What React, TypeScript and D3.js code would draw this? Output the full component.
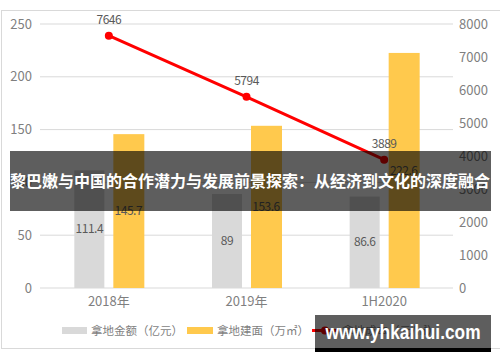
import React from 'react'
import * as d3 from 'd3'

const categories = ['2018年', '2019年', '1H2020']
const landAmount = [111.4, 89, 86.6]
const landArea = [145.7, 153.6, 222.6]
const landCost = [7646, 5794, 3889]
const leftTicks = [0, 50, 100, 150, 200, 250]
const rightTicks = [0, 1000, 2000, 3000, 4000, 5000, 6000, 7000, 8000]
const legendNames = ['拿地金额（亿元）', '拿地建面（万㎡）', '拿地成本（元/㎡）']
const title = '黎巴嫩与中国的合作潜力与发展前景探索：从经济到文化的深度融合'
const watermark = 'www.yhkaihui.com'

const W = 500
const H = 362
const font = '"Noto Sans CJK SC", "Noto Sans", sans-serif'

export default function App() {
    const [left, right, top, bottom] = [40, 453, 24, 288]

    const x = d3.scaleBand().domain(categories).range([left, right])
    const yL = d3.scaleLinear().domain([0, 250]).range([bottom, top])
    const yR = d3.scaleLinear().domain([0, 8000]).range([bottom, top])

    const barW = 30
    const gap = 9
    const greyX = (c: string) => x(c)! + x.bandwidth() / 2 - gap / 2 - barW
    const yellowX = (c: string) => x(c)! + x.bandwidth() / 2 + gap / 2
    const cx = (c: string) => x(c)! + x.bandwidth() / 2

    const line = d3
        .line<number>()
        .x((d, i) => cx(categories[i]))
        .y(d => yR(d))

    return (
        <div style={{ position: 'fixed', left: 0, top: 0 }}>
            <svg width={W} height={H} style={{ display: 'block', fontFamily: font }}>
                <rect x={0} y={0} width={W} height={H} fill='#fff' />
                <rect x={1.5} y={10.5} width={500} height={338} fill='none' stroke='#d9d9d9' />

                {/* grid */}
                {leftTicks.map(t => (
                    <line key={t} x1={left} x2={right} y1={yL(t)} y2={yL(t)} stroke='#d9d9d9' strokeWidth={1} />
                ))}
                {leftTicks.map(t => (
                    <text key={t} x={32} y={yL(t)} dy='0.35em' textAnchor='end' fontSize={13} fill='#7f7f7f'>
                        {t}
                    </text>
                ))}
                {rightTicks.map(t => (
                    <text key={t} x={459} y={yR(t)} dy='0.35em' textAnchor='start' fontSize={13} fill='#7f7f7f'>
                        {t}
                    </text>
                ))}
                {categories.map(c => (
                    <text key={c} x={cx(c)} y={bottom + 18} textAnchor='middle' fontSize={13} fill='#7f7f7f'>
                        {c}
                    </text>
                ))}

                {/* bars */}
                {categories.map((c, i) => (
                    <g key={c}>
                        <rect x={greyX(c)} y={yL(landAmount[i])} width={barW} height={bottom - yL(landAmount[i])} fill='#d9d9d9' />
                        <rect x={yellowX(c)} y={yL(landArea[i])} width={barW + 1} height={bottom - yL(landArea[i])} fill='#ffc94d' />
                        <text x={greyX(c) + barW / 2} y={(yL(landAmount[i]) + bottom) / 2} dy='0.35em' textAnchor='middle' fontSize={12} fill='#595959' letterSpacing={-0.5}>
                            {landAmount[i]}
                        </text>
                        <text x={yellowX(c) + barW / 2} y={(yL(landArea[i]) + bottom) / 2} dy='0.35em' textAnchor='middle' fontSize={12} fill='#595959' letterSpacing={-0.5}>
                            {landArea[i]}
                        </text>
                    </g>
                ))}

                {/* line */}
                <path d={line(landCost)!} fill='none' stroke='#ff0000' strokeWidth={3} />
                {landCost.map((v, i) => (
                    <g key={i}>
                        <circle cx={cx(categories[i])} cy={yR(v)} r={4} fill='#ff0000' />
                        <text x={cx(categories[i])} y={yR(v) - 12} textAnchor='middle' fontSize={12} fill='#595959' letterSpacing={-0.5}>
                            {v}
                        </text>
                    </g>
                ))}

                {/* legend */}
                <g fontSize={11.5} fill='#7f7f7f'>
                    <rect x={62} y={327} width={25} height={7} fill='#d9d9d9' />
                    <text x={91} y={330.5} dy='0.35em'>{legendNames[0]}</text>
                    <rect x={187} y={327} width={26} height={7} fill='#ffc94d' />
                    <text x={217} y={330.5} dy='0.35em'>{legendNames[1]}</text>
                    <line x1={312} x2={338} y1={330.5} y2={330.5} stroke='#ff0000' strokeWidth={3} />
                    <circle cx={325} cy={330.5} r={4} fill='#ff0000' />
                    <text x={342} y={330.5} dy='0.35em'>{legendNames[2]}</text>
                </g>

                {/* title overlay */}
                <rect x={10} y={151} width={481} height={60} fill='rgba(0,0,0,0.63)' />
                <text x={250} y={181} dy='0.35em' textAnchor='middle' fontSize={16} fontWeight='bold' fill='#fff' textLength={480} lengthAdjust='spacingAndGlyphs'>
                    {title}
                </text>

                {/* watermark */}
                <rect x={315} y={315} width={176} height={33} fill='rgba(0,0,0,0.63)' />
                <rect x={315} y={348} width={176} height={4} fill='#000' />
                <text x={403} y={332} dy='0.35em' textAnchor='middle' fontSize={20} fontWeight='bold' fill='#fff' fontFamily='"Liberation Sans", Arial, sans-serif' textLength={155} lengthAdjust='spacingAndGlyphs'>
                    {watermark}
                </text>
            </svg>
        </div>
    )
}
